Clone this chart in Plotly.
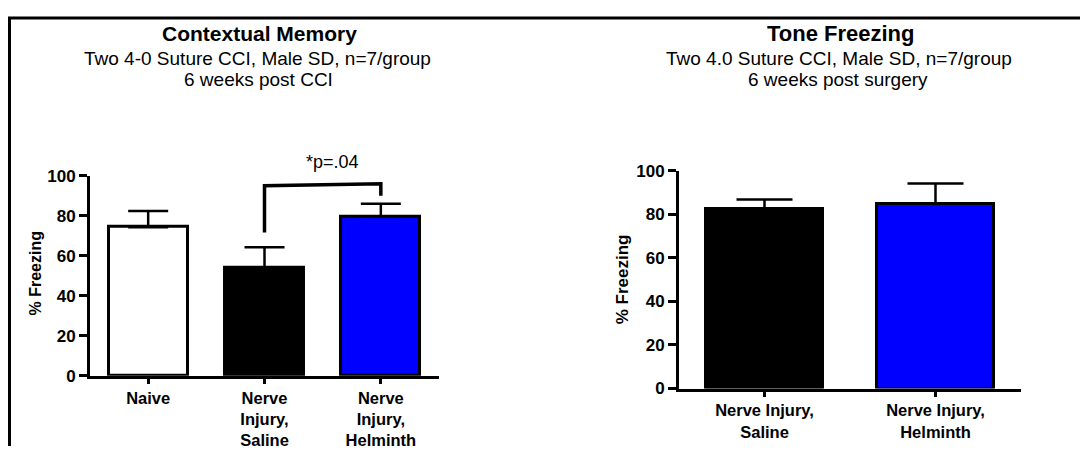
import plotly.graph_objects as go

# ---- data ----
ctx_categories = ["Naive", "Nerve<br>Injury,<br>Saline", "Nerve<br>Injury,<br>Helminth"]
ctx_means = [74.3, 54.0, 79.5]
ctx_sem = [8.1, 10.2, 6.5]
ctx_colors = ["#FFFFFF", "#000000", "#0000FF"]

tone_categories = ["Nerve Injury,<br>Saline", "Nerve Injury,<br>Helminth"]
tone_means = [82.5, 85.0]
tone_sem = [4.4, 9.2]
tone_colors = ["#000000", "#0000FF"]

bracket_x = [ctx_categories[1], ctx_categories[1], ctx_categories[2], ctx_categories[2]]
bracket_y = [71.6, 95.0, 96.0, 90.0]
p_label = "*p=.04"

y_ticks = [0, 20, 40, 60, 80, 100]

FONT = "Liberation Sans, Arial, sans-serif"
W, H = 1080, 456

def px(x):
    return x / W

def py(y):
    return 1 - y / H

fig = go.Figure()

fig.add_trace(go.Bar(
    x=ctx_categories, y=ctx_means, width=0.68,
    marker=dict(color=ctx_colors, line=dict(color="black", width=3)),
    error_y=dict(type="data", array=ctx_sem, arrayminus=[0] * len(ctx_sem),
                 symmetric=False, color="black", thickness=2.5, width=20),
    xaxis="x", yaxis="y", showlegend=False, hoverinfo="skip",
))

fig.add_trace(go.Scatter(
    x=bracket_x, y=bracket_y, mode="lines",
    line=dict(color="black", width=3.5),
    xaxis="x", yaxis="y", showlegend=False, hoverinfo="skip", cliponaxis=False,
))

fig.add_trace(go.Bar(
    x=tone_categories, y=tone_means, width=0.68,
    marker=dict(color=tone_colors, line=dict(color="black", width=3)),
    error_y=dict(type="data", array=tone_sem, arrayminus=[0] * len(tone_sem),
                 symmetric=False, color="black", thickness=2.5, width=28),
    xaxis="x2", yaxis="y2", showlegend=False, hoverinfo="skip",
))

axis_common = dict(
    showgrid=False, zeroline=False, showline=True, linecolor="black", linewidth=3,
    ticks="outside", tickcolor="black", tickwidth=3,
)
xfont = dict(family=FONT, size=16.5, color="black", weight="bold")
yfont = dict(family=FONT, size=17, color="black", weight="bold")

fig.update_layout(
    width=W, height=H,
    margin=dict(l=0, r=0, t=0, b=0),
    paper_bgcolor="white", plot_bgcolor="white",
    font=dict(family=FONT, color="black"),
    bargap=0,
    xaxis=dict(domain=[px(90), px(439)], range=[-0.5, 2.5], anchor="y",
               type="category", ticklen=5, tickfont=xfont, **axis_common),
    yaxis=dict(domain=[py(382.7), py(174)], range=[0, 100], anchor="x",
               tickvals=y_ticks, ticklen=8, tickfont=yfont, **axis_common),
    xaxis2=dict(domain=[px(679), px(1021)], range=[-0.5, 1.5], anchor="y2",
                type="category", ticklen=5, tickfont=xfont, **axis_common),
    yaxis2=dict(domain=[py(396), py(169)], range=[0, 100], anchor="x2",
                tickvals=y_ticks, ticklen=8, tickfont=yfont, **axis_common),
)

ann = []

def txt(x, y, text, size, bold=False, angle=0):
    ann.append(dict(
        x=px(x), y=py(y), xref="paper", yref="paper", text=text, showarrow=False,
        xanchor="center", yanchor="middle", textangle=angle,
        font=dict(family=FONT, size=size, color="black", weight="bold" if bold else "normal"),
    ))

txt(259, 26, "Contextual Memory", 21, bold=True)
txt(257, 52, "Two 4-0 Suture CCI, Male SD, n=7/group", 19)
txt(258, 74, "6 weeks post CCI", 19)

txt(841, 26, "Tone Freezing", 22, bold=True)
txt(839, 52, "Two 4.0 Suture CCI, Male SD, n=7/group", 19)
txt(838, 74, "6 weeks post surgery", 19)

txt(35, 276, "% Freezing", 16, bold=True, angle=-90)
txt(622, 282, "% Freezing", 17, bold=True, angle=-90)

txt(332, 160, p_label, 18)

fig.update_layout(annotations=ann)

# outer frame (left and top edges)
fig.add_shape(type="line", xref="paper", yref="paper",
              x0=px(9.5), x1=px(9.5), y0=0, y1=py(9.5),
              line=dict(color="black", width=3))
fig.add_shape(type="line", xref="paper", yref="paper",
              x0=px(8), x1=1, y0=py(9.5), y1=py(9.5),
              line=dict(color="black", width=3))

fig.write_html("out.html")
